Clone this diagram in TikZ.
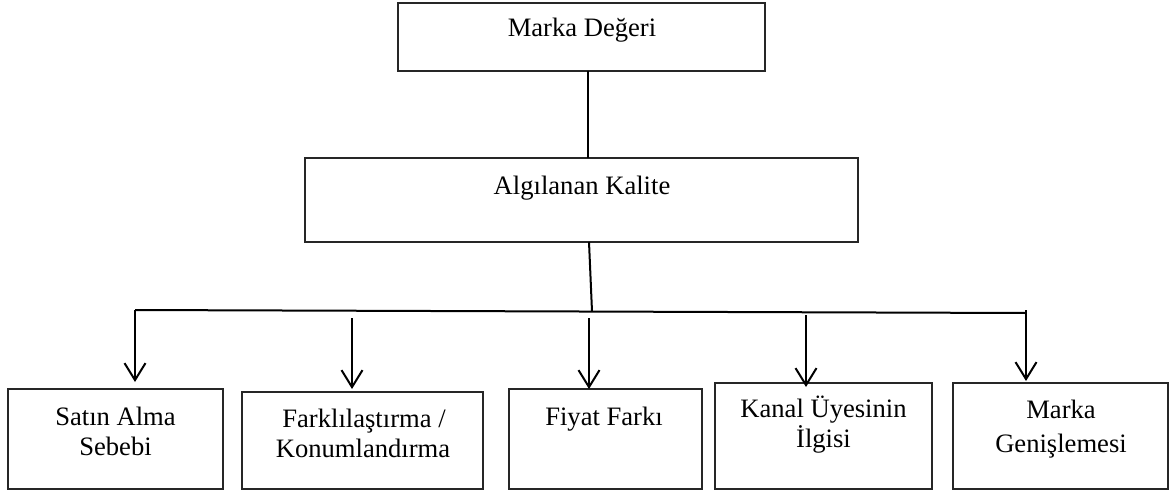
\documentclass[tikz,border=0pt]{standalone}
\usepackage{fontspec}
\setmainfont{Liberation Serif}
\usetikzlibrary{arrows.meta,fit}
\begin{document}
\begin{tikzpicture}[x=0.5pt,y=-0.5pt,
  box/.style={draw=black!85,line width=1pt,inner sep=0pt,outer sep=0pt},
  lbl/.style={anchor=base,inner sep=0pt,font=\fontsize{13.3pt}{15pt}\selectfont},
  conn/.style={draw=black,line width=1pt},
  arr/.style={conn,-{Straight Barb[length=8.5pt,width=10.5pt,line width=1pt]}}]
\useasboundingbox (0,0) rectangle (1170,492);
% boxes
\node[box,fit={(398,3) (765,71)}] (mv) {};
\node[box,fit={(305,158) (858,242)}] (ak) {};
\node[box,fit={(8,389) (223,489)}] (sat) {};
\node[box,fit={(242,392) (483,489)}] (fk) {};
\node[box,fit={(509,389) (702,489)}] (ff) {};
\node[box,fit={(715,383) (932,489)}] (ku) {};
\node[box,fit={(953,383) (1168,489)}] (mg) {};
% labels
\node[lbl] (tmv) at (582,37) {Marka Değeri};
\node[lbl] (tak) at (582,194) {Algılanan Kalite};
\node[lbl] (tsat1) at (115.5,425) {Satın Alma};
\node[lbl] (tsat2) at (115.5,455) {Sebebi};
\node[lbl] (tfk1) at (364,427) {Farklılaştırma /};
\node[lbl] (tfk2) at (363,457) {Konumlandırma};
\node[lbl] (tff) at (604,425) {Fiyat Farkı};
\node[lbl] (tku1) at (823.5,417) {Kanal Üyesinin};
\node[lbl] (tku2) at (823.5,447) {İlgisi};
\node[lbl] (tmg1) at (1061,418) {Marka};
\node[lbl] (tmg2) at (1061,452) {Genişlemesi};
% bus coordinates
\coordinate (bL) at (135,310);
\coordinate (bR) at (1026,313);
\coordinate (bM) at (592,311.5);
\coordinate (a2) at (352,318);
\coordinate (a3) at (589,318);
\coordinate (a4) at (806,315);
\coordinate (a5) at (1026,310);
% connectors
\draw[conn] (588,0 |- mv.south) -- (588,0 |- ak.north);
\draw[conn] (589,0 |- ak.south) -- (bM);
\draw[conn] (bL) -- (bR);
\draw[arr,shorten >=3.5pt] (bL) -- (bL |- sat.north);
\draw[arr,shorten >=1.5pt] (a2) -- (a2 |- fk.north);
\draw[arr] (a3) -- (a3 |- ff.north);
\draw[arr,shorten >=-2pt] (a4) -- (a4 |- ku.north);
\draw[arr,shorten >=1pt] (a5) -- (a5 |- mg.north);
\end{tikzpicture}
\end{document}
